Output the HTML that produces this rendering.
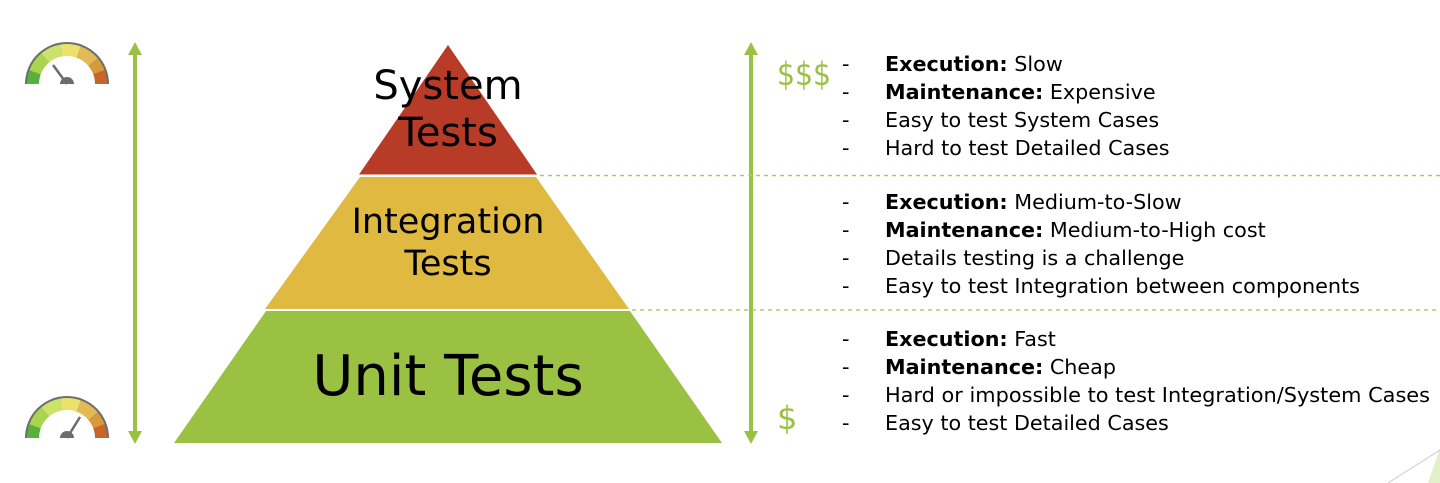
<!DOCTYPE html>
<html><head><meta charset="utf-8"><style>
html,body{margin:0;padding:0;background:#fff;width:1440px;height:483px;overflow:hidden}
svg{display:block}
text{font-family:"DejaVu Sans","Liberation Sans",sans-serif}
</style></head><body>
<svg width="1440" height="483" viewBox="0 0 1440 483">
<defs>
<g id="gauge">
<path d="M-42,0 A42,42 0 0 1 42,0 Z" fill="#6d6d6d"/>
<path d="M-40,0 A40,40 0 0 1 -37.6,-13.7 L-26.3,-9.6 A28,28 0 0 0 -28,0 Z" fill="#58b13a"/>
<path d="M-37.6,-13.7 A40,40 0 0 1 -25.7,-30.6 L-18,-21.4 A28,28 0 0 1 -26.3,-9.6 Z" fill="#a9d44e"/>
<path d="M-25.7,-30.6 A40,40 0 0 1 -6.9,-39.4 L-4.9,-27.6 A28,28 0 0 1 -18,-21.4 Z" fill="#cde26a"/>
<path d="M-6.9,-39.4 A40,40 0 0 1 13.7,-37.6 L9.6,-26.3 A28,28 0 0 1 -4.9,-27.6 Z" fill="#ebe26d"/>
<path d="M13.7,-37.6 A40,40 0 0 1 30.6,-25.7 L21.4,-18 A28,28 0 0 1 9.6,-26.3 Z" fill="#e2bb55"/>
<path d="M30.6,-25.7 A40,40 0 0 1 37.6,-13.7 L26.3,-9.6 A28,28 0 0 1 21.4,-18 Z" fill="#d69a3a"/>
<path d="M37.6,-13.7 A40,40 0 0 1 40,0 L28,0 A28,28 0 0 0 26.3,-9.6 Z" fill="#c9652a"/>
<path d="M-28,0 A28,28 0 0 1 28,0 Z" fill="#fff"/>
</g>
</defs>
<g transform="translate(67,84)"><use href="#gauge"/><line x1="0" y1="0" x2="-14" y2="-19" stroke="#6d6d6d" stroke-width="2.5"/><path d="M-7,0 A7,7 0 0 1 7,0 Z" fill="#6d6d6d"/></g>
<g transform="translate(67,438)"><use href="#gauge"/><line x1="0" y1="0" x2="13" y2="-21" stroke="#6d6d6d" stroke-width="2.5"/><path d="M-7,0 A7,7 0 0 1 7,0 Z" fill="#6d6d6d"/></g>
<line x1="135" y1="52" x2="135" y2="434" stroke="#9bc143" stroke-width="4"/>
<polygon points="135,42 128,55 142,55" fill="#9bc143"/>
<polygon points="135,444 128,431 142,431" fill="#9bc143"/>
<line x1="751" y1="52" x2="751" y2="434" stroke="#9bc143" stroke-width="4"/>
<polygon points="751,42 744,55 758,55" fill="#9bc143"/>
<polygon points="751,444 744,431 758,431" fill="#9bc143"/>
<polygon points="448,45 537,174.5 359,174.5" fill="#b83b27"/>
<polygon points="360,177 536,177 629,309 265,309" fill="#e0b941"/>
<polygon points="266,311 630,311 722,443 174,443" fill="#9bc143"/>
<line x1="540" y1="175.5" x2="1440" y2="175.5" stroke="#a8d060" stroke-width="1.5" stroke-dasharray="4,4"/>
<line x1="632" y1="310" x2="1440" y2="310" stroke="#a8d060" stroke-width="1.5" stroke-dasharray="4,4"/>
<g text-anchor="middle" fill="#000">
<text x="448" y="99" font-size="40">System</text>
<text x="448" y="146" font-size="40">Tests</text>
<text x="448" y="233" font-size="35">Integration</text>
<text x="448" y="275" font-size="35">Tests</text>
<text x="448" y="395" font-size="56">Unit Tests</text>
</g>
<text x="777" y="85" font-size="32" fill="#9bc143" textLength="54" lengthAdjust="spacingAndGlyphs">$$$</text>
<text x="777" y="429" font-size="32" fill="#9bc143">$</text>
<g font-size="20.7" fill="#000">
<text x="842" y="71">-</text><text x="885" y="71"><tspan font-weight="bold">Execution:</tspan> Slow</text>
<text x="842" y="99">-</text><text x="885" y="99"><tspan font-weight="bold">Maintenance:</tspan> Expensive</text>
<text x="842" y="127">-</text><text x="885" y="127">Easy to test System Cases</text>
<text x="842" y="155">-</text><text x="885" y="155">Hard to test Detailed Cases</text>
<text x="842" y="209">-</text><text x="885" y="209"><tspan font-weight="bold">Execution:</tspan> Medium-to-Slow</text>
<text x="842" y="237">-</text><text x="885" y="237"><tspan font-weight="bold">Maintenance:</tspan> Medium-to-High cost</text>
<text x="842" y="265">-</text><text x="885" y="265">Details testing is a challenge</text>
<text x="842" y="293">-</text><text x="885" y="293" textLength="475" lengthAdjust="spacingAndGlyphs">Easy to test Integration between components</text>
<text x="842" y="346">-</text><text x="885" y="346"><tspan font-weight="bold">Execution:</tspan> Fast</text>
<text x="842" y="374">-</text><text x="885" y="374"><tspan font-weight="bold">Maintenance:</tspan> Cheap</text>
<text x="842" y="402">-</text><text x="885" y="402" textLength="545" lengthAdjust="spacingAndGlyphs">Hard or impossible to test Integration/System Cases</text>
<text x="842" y="430">-</text><text x="885" y="430">Easy to test Detailed Cases</text>
</g>
<polygon points="1428,483 1440,448 1440,483" fill="#e3efc8"/>
<line x1="1388" y1="483" x2="1440" y2="450" stroke="#cccccc" stroke-width="1"/>
</svg>
</body></html>
